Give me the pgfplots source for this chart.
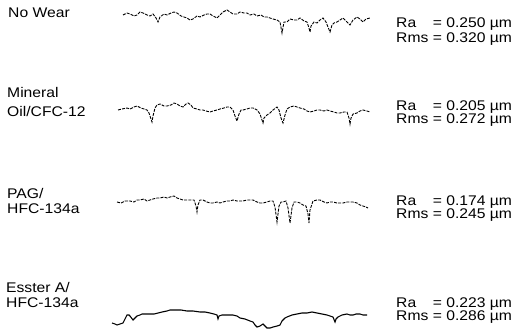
\documentclass[border=0pt]{standalone}
\usepackage{fontspec}
\setmainfont{Liberation Sans}[FakeStretch=1.12]
\usepackage{pgfplots}
\pgfplotsset{compat=1.18}
\begin{document}
\begin{tikzpicture}
\useasboundingbox (0,0) rectangle (519bp,331bp);
\begin{axis}[
  at={(0,0)}, anchor=south west,
  scale only axis, width=519bp, height=331bp,
  hide axis, clip=false,
  xmin=0, xmax=519, ymin=0, ymax=331, y dir=reverse,
]
% No Wear
\addplot[black, line width=0.9pt, dash pattern=on 3pt off 1.2pt] table {
x y
123 15
127 13
130 14
134 16
137 15
140 12
143 13
147 15
150 16
153 14
156 18
158 22
160 17
164 14
167 15
171 13
174 12
177 13
181 16
184 17
187 18
190 20
193 19
197 16
200 17
204 15
207 14
210 14
213 16
217 18
220 15
223 12
227 10
230 12
233 14
237 14
240 12
244 13
247 13
250 15
254 14
257 16
261 15
264 17
267 17
270 18
273 19
277 20
280 22
282 33
284 22
287 22
290 19
294 20
297 20
300 18
304 21
307 22
309 28
310 32
311 26
314 22
317 23
320 20
323 18
326 22
328 27
330 32
332 25
334 23
337 22
340 20
343 18
346 21
350 25
353 20
357 17
360 19
363 22
366 19
370 18
};
% Mineral Oil / CFC-12
\addplot[black, line width=0.9pt, dash pattern=on 3pt off 1.2pt] table {
x y
118 110
122 109
127 108
130 109
134 107
137 106
141 108
144 109
147 110
149 113
151 119
152 122
153 116
155 108
157 105
160 104
164 106
167 106
171 105
174 103
177 104
180 106
183 107
186 104
188 103
191 105
193 108
197 109
200 110
203 110
206 111
210 112
213 111
217 110
220 109
224 108
227 107
230 107
233 110
235 116
237 121
239 114
241 110
243 110
247 109
250 108
253 108
257 110
260 114
262 120
263 123
264 118
267 115
270 113
273 110
277 107
279 110
281 118
283 123
285 115
287 109
290 107
294 106
297 107
300 108
304 109
307 111
310 112
314 111
317 110
320 110
324 111
327 110
330 111
334 112
337 113
340 113
344 112
347 112
349 118
350 124
351 118
353 114
357 113
360 111
363 110
367 111
370 112
};
% PAG / HFC-134a
\addplot[black, line width=0.9pt, dash pattern=on 3pt off 1.2pt] table {
x y
117 202
121 203
125 201
130 201
134 202
137 200
140 200
144 199
147 201
150 200
153 199
157 198
160 198
164 197
167 198
170 197
174 196
177 198
180 199
183 200
186 200
190 200
194 200
196 206
197 212
198 205
200 200
203 200
207 202
210 203
213 203
217 202
220 203
223 202
227 201
230 201
233 200
237 201
240 201
243 201
247 200
250 200
253 200
257 202
260 203
263 203
267 202
270 201
273 201
275 207
277 222
279 206
281 202
283 202
286 201
288 208
290 223
292 208
294 202
297 202
300 203
303 205
306 206
308 214
309 223
310 210
313 201
317 200
320 200
324 202
327 203
330 202
333 202
337 203
340 203
343 203
347 202
350 202
353 202
357 203
360 205
363 206
366 207
368 208
};
% Esster A / HFC-134a
\addplot[black, line width=1.1pt] table {
x y
112 323
115 324
117 325
120 324
123 323
125 319
127 315
129 315
130 316
133 320
135 318
137 316
140 315
142 314
146 314
150 314
154 314
158 313
162 312
167 311
170 310
173 310
177 310
181 310
187 311
193 311
200 312
205 312
210 313
214 314
217 315
218 319
219 316
222 315
227 315
233 315
237 316
240 318
245 319
250 321
253 322
255 325
257 327
260 326
263 324
265 326
267 328
270 328
273 327
277 326
280 325
282 321
285 318
287 317
292 315
297 314
302 313
307 313
312 312
317 313
322 314
327 315
330 316
333 317
335 322
336 319
338 317
342 315
347 314
350 315
353 315
356 314
360 314
363 315
367 315
};
\begin{scope}[every node/.style={inner sep=0pt, font=\fontsize{14bp}{14bp}\selectfont}]
\node[anchor=base west] at (axis cs:8,18) {No Wear};
\node[anchor=base west] at (axis cs:7,97) {Mineral};
\node[anchor=base west] at (axis cs:7,116) {Oil/CFC-12};
\node[anchor=base west] at (axis cs:7,198) {PAG/};
\node[anchor=base west] at (axis cs:7,213) {HFC-134a};
\node[anchor=base west] at (axis cs:6,292) {Esster A/};
\node[anchor=base west] at (axis cs:6,307) {HFC-134a};
\node[anchor=base west] at (axis cs:396,28) {\rlap{Ra}\phantom{Rms} = 0.250 \textmu m};
\node[anchor=base west] at (axis cs:396,42) {Rms = 0.320 \textmu m};
\node[anchor=base west] at (axis cs:396,110) {\rlap{Ra}\phantom{Rms} = 0.205 \textmu m};
\node[anchor=base west] at (axis cs:396,123) {Rms = 0.272 \textmu m};
\node[anchor=base west] at (axis cs:396,205) {\rlap{Ra}\phantom{Rms} = 0.174 \textmu m};
\node[anchor=base west] at (axis cs:396,218) {Rms = 0.245 \textmu m};
\node[anchor=base west] at (axis cs:396,307) {\rlap{Ra}\phantom{Rms} = 0.223 \textmu m};
\node[anchor=base west] at (axis cs:396,320) {Rms = 0.286 \textmu m};
\end{scope}
\end{axis}
\end{tikzpicture}
\end{document}
